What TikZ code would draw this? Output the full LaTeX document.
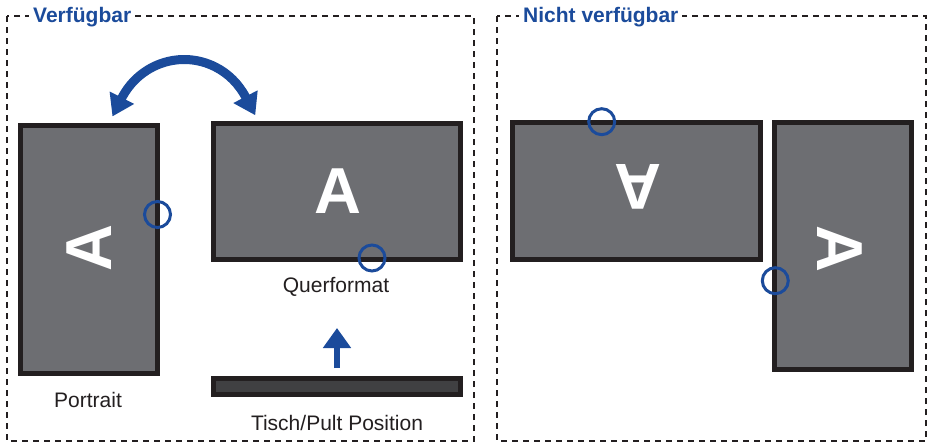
\documentclass[tikz,border=0pt]{standalone}
\usepackage{fontspec}
\setmainfont{Liberation Sans}
\usetikzlibrary{arrows.meta}
\definecolor{mblue}{HTML}{1B4B9B}
\definecolor{bezel}{HTML}{231F20}
\definecolor{screengray}{HTML}{6D6E72}
\definecolor{deskgray}{HTML}{404042}
\definecolor{frame}{HTML}{231F20}
\begin{document}
\begin{tikzpicture}[x=1pt,y=-1pt,
  panel/.style={draw=frame, line width=1.8pt, dash pattern=on 6pt off 5pt},
  screen/.style={draw=bezel, fill=screengray, line width=5pt, inner sep=0pt},
  knob/.style={circle, draw=mblue, line width=3pt, minimum size=26pt, inner sep=0pt},
  letter/.style={text=white, font=\bfseries\fontsize{65}{65}\selectfont, inner sep=0pt},
  caption/.style={font=\fontsize{21}{21}\selectfont, text=bezel, inner sep=0pt, anchor=base},
  title/.style={font=\bfseries\fontsize{21}{21}\selectfont, text=mblue, fill=white, inner xsep=4pt, inner ysep=2pt, anchor=base west},
  bigarrow/.style={draw=mblue, line width=9pt, {Triangle[width=26pt,length=21pt]}-{Triangle[width=26pt,length=21pt]}, shorten <=-21pt, shorten >=-21pt},
  uparrow/.style={draw=mblue, line width=6.5pt, -{Triangle[width=27pt,length=20pt]}}
]
\useasboundingbox (0,0) rectangle (929,447);
\fill[white] (0,0) rectangle (929,447);
% panels
\draw[panel] (7,16) rectangle (474,441);
\draw[panel] (497,16) rectangle (926,441);
\node[title] (avail) at (29,22) {Verfügbar};
\node[title] (notavail) at (519,22) {Nicht verfügbar};
% left panel screens
\node[screen, minimum width=137pt, minimum height=248pt] (portrait) at (89,249.5) {};
\node[screen, minimum width=247pt, minimum height=136pt] (landscape) at (337,191.5) {};
\node[screen, fill=deskgray, minimum width=247pt, minimum height=16pt] (desk) at (337,386.5) {};
% right panel screens
\node[screen, minimum width=248pt, minimum height=137pt] (badland) at (636.5,191) {};
\node[screen, minimum width=137pt, minimum height=247pt] (badport) at (843,246) {};
% letters
\node[letter, rotate=90] (portraitA) at (89,248) {A};
\node[letter] (landA) at (337.5,191) {A};
\node[letter, rotate=180] (badlandA) at (638,186.5) {A};
\node[letter, rotate=-90] (badportA) at (840,248.5) {A};
% circles
\node[knob] (k1) at (157.5,214.5) {};
\node[knob] (k2) at (372,258) {};
\node[knob] (k3) at (601.7,121.7) {};
\node[knob] (k4) at (775.3,280.7) {};
% captions
\node[caption] (portraitcap) at (88,407) {Portrait};
\node[caption] (landcap) at (336,292) {Querformat};
\node[caption] (deskcap) at (337,430) {Tisch/Pult Position};
% arrows
\coordinate (swapL) at (121.9,97.7);
\draw[bigarrow] (swapL) arc[start angle=-153.25, end angle=-27.7, radius=69.5];
\coordinate (upS) at (337,368);
\coordinate (upT) at (337,328);
\draw[uparrow] (upS) -- (upT);
\end{tikzpicture}
\end{document}
